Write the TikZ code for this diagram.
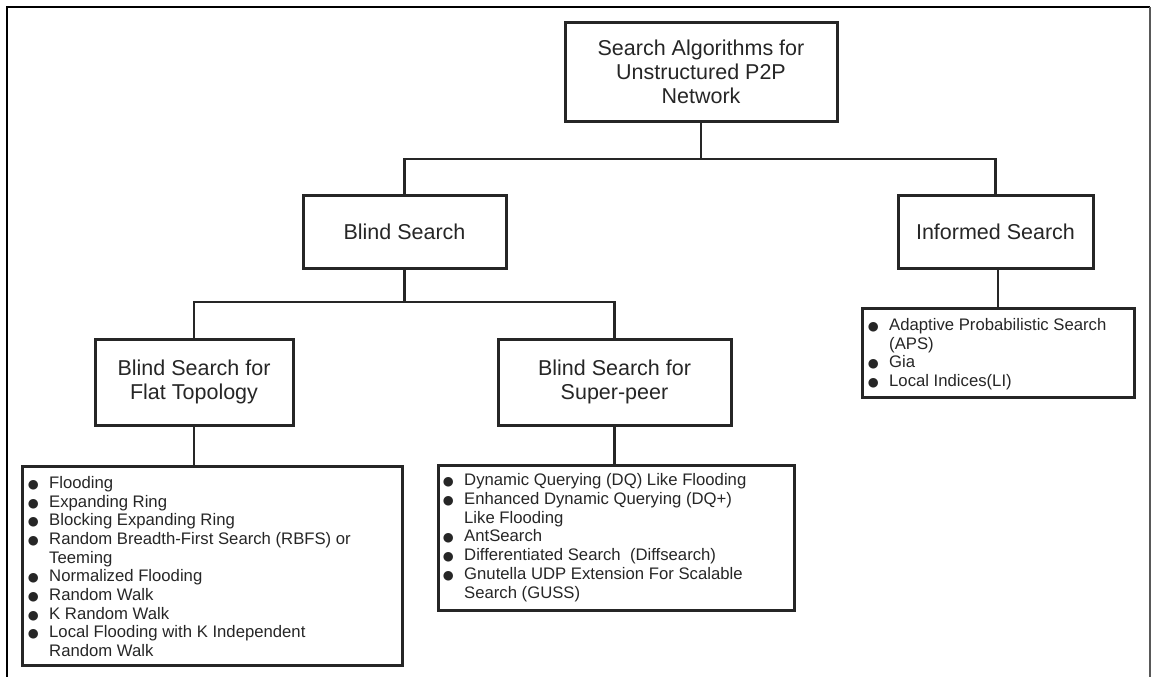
\documentclass[tikz,border=0pt]{standalone}
\usepackage{fontspec}
\setmainfont{Liberation Sans}
\newfontfamily\symfont{DejaVu Sans}
\newcommand\dotmark{\llap{{\symfont\fontsize{12.5}{12.5}\selectfont ●}\hspace{10.5pt}}}
\begin{document}
\begin{tikzpicture}[x=1pt,y=-1pt,
  box/.style={draw=black!85, line width=3pt, rectangle, inner sep=0pt, align=center,
    font=\fontsize{21.5}{24.3}\selectfont, text=black!85},
  listtext/.style={anchor=north west, inner sep=0pt, align=left,
    font=\fontsize{16.7}{18.7}\selectfont, text=black!85},
  link/.style={draw=black!85, line width=2.6pt},
  frame/.style={line width=2pt}]
\useasboundingbox (0,0) rectangle (1151,677);

% page frame
\draw[frame, black] (7,677) -- (7,7) -- (1150,7);
\draw[frame, black!65] (1150,7) -- (1150,677);

% category boxes
\node[box, minimum width=272pt, minimum height=98pt] (root) at (701,72)
  {Search Algorithms for\\Unstructured P2P\\Network};
\node[box, minimum width=203pt, minimum height=73pt] (blind) at (404.5,231.5) {Blind Search};
\node[box, minimum width=195pt, minimum height=73pt] (inf) at (995.5,231.5) {Informed Search};
\node[box, minimum width=198pt, minimum height=86pt] (flat) at (194,382)
  {Blind Search for\\Flat Topology};
\node[box, minimum width=233pt, minimum height=86pt] (super) at (614.5,382)
  {Blind Search for\\Super-peer};

% list boxes
\node[box, minimum width=380pt, minimum height=199pt] (flatlist) at (212,565.5) {};
\node[box, minimum width=356pt, minimum height=145pt] (superlist) at (616,537.5) {};
\node[box, minimum width=272pt, minimum height=89pt] (inflist) at (998,352.5) {};

\node[listtext] (flatitems) at (49,476) {%
  \dotmark Flooding\\
  \dotmark Expanding Ring\\
  \dotmark Blocking Expanding Ring\\
  \dotmark Random Breadth-First Search (RBFS) or\\
  Teeming\\
  \dotmark Normalized Flooding\\
  \dotmark Random Walk\\
  \dotmark K Random Walk\\
  \dotmark Local Flooding with K Independent\\
  Random Walk};
\node[listtext] (superitems) at (464,473.5) {%
  \dotmark Dynamic Querying (DQ) Like Flooding\\
  \dotmark Enhanced Dynamic Querying (DQ+)\\
  Like Flooding\\
  \dotmark AntSearch\\
  \dotmark Differentiated Search\ \ (Diffsearch)\\
  \dotmark Gnutella UDP Extension For Scalable\\
  Search (GUSS)};
\node[listtext] (infitems) at (889,318) {%
  \dotmark Adaptive Probabilistic Search\\
  (APS)\\
  \dotmark Gia\\
  \dotmark Local Indices(LI)};

% tree connectors
\coordinate (j1) at (701,159);
\coordinate (j2) at (404.5,302);
\draw[link] (root.south) -- (j1);
\draw[link] (blind.north) |- (j1) -| (inf.north);
\draw[link] (blind.south) -- (j2);
\draw[link] (flat.north) |- (j2) -| (super.north);
\draw[link] (flat.south) -- (flat.south |- flatlist.north);
\draw[link] (super.south) -- (super.south |- superlist.north);
\draw[link] (inflist.north) -- (inflist.north |- inf.south);
\end{tikzpicture}
\end{document}
